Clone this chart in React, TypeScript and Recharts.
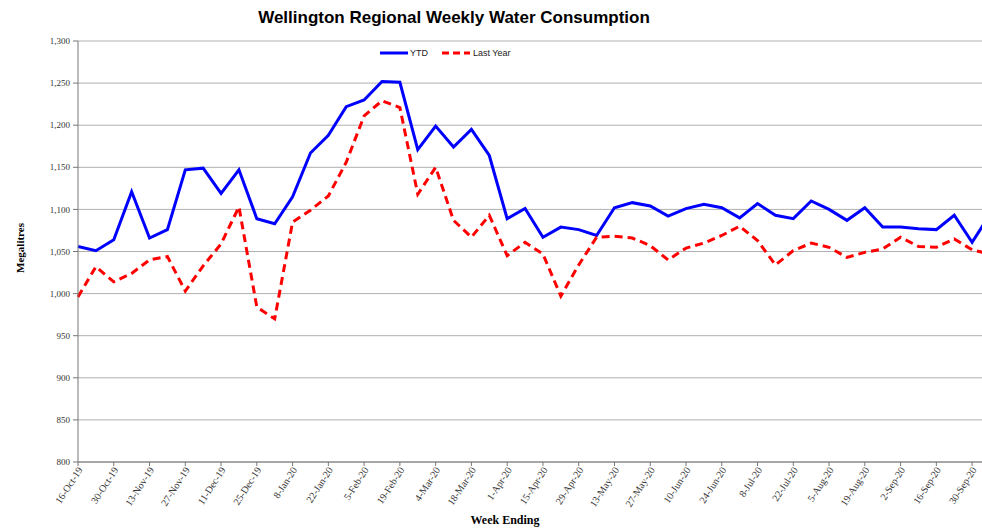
import React from 'react';
import { LineChart, Line, XAxis, YAxis, CartesianGrid, Legend } from 'recharts';

const weeks = [
  '16-Oct-19', '23-Oct-19', '30-Oct-19', '6-Nov-19', '13-Nov-19', '20-Nov-19', '27-Nov-19', '4-Dec-19',
  '11-Dec-19', '18-Dec-19', '25-Dec-19', '1-Jan-20', '8-Jan-20', '15-Jan-20', '22-Jan-20', '29-Jan-20',
  '5-Feb-20', '12-Feb-20', '19-Feb-20', '26-Feb-20', '4-Mar-20', '11-Mar-20', '18-Mar-20', '25-Mar-20',
  '1-Apr-20', '8-Apr-20', '15-Apr-20', '22-Apr-20', '29-Apr-20', '6-May-20', '13-May-20', '20-May-20',
  '27-May-20', '3-Jun-20', '10-Jun-20', '17-Jun-20', '24-Jun-20', '1-Jul-20', '8-Jul-20', '15-Jul-20',
  '22-Jul-20', '29-Jul-20', '5-Aug-20', '12-Aug-20', '19-Aug-20', '26-Aug-20', '2-Sep-20', '9-Sep-20',
  '16-Sep-20', '23-Sep-20', '30-Sep-20', '7-Oct-20',
];

const ytd = [
  1056, 1051, 1064, 1121, 1066, 1076, 1147, 1149, 1119, 1147, 1089, 1083, 1115, 1167, 1188, 1222,
  1230, 1252, 1251, 1171, 1199, 1174, 1195, 1164, 1089, 1101, 1067, 1079, 1076, 1069, 1102, 1108,
  1104, 1092, 1101, 1106, 1102, 1090, 1107, 1093, 1089, 1110, 1100, 1087, 1102, 1079, 1079, 1077,
  1076, 1093, 1061, 1094,
];

const lastYear = [
  996, 1032, 1014, 1024, 1040, 1044, 1003, 1033, 1059, 1103, 984, 970, 1085, 1099, 1116, 1156,
  1211, 1229, 1221, 1118, 1150, 1087, 1067, 1093, 1045, 1061, 1047, 997, 1034, 1067, 1068, 1066,
  1057, 1040, 1054, 1060, 1069, 1080, 1063, 1034, 1051, 1060, 1055, 1043, 1049, 1053, 1067, 1056,
  1055, 1065, 1052, 1047,
];

const yTicks = [800, 850, 900, 950, 1000, 1050, 1100, 1150, 1200, 1250, 1300];

const data = weeks.map((w, i) => ({ week: w, ytd: ytd[i], lastYear: lastYear[i] }));

const SERIF = '"Liberation Serif", "Times New Roman", serif';
const SANS = '"Liberation Sans", Arial, sans-serif';

const XTick = (props: any) => {
  const { x, y, payload } = props;
  return (
    <g transform={`translate(${x + 2},${y})`}>
      <text
        x={0}
        y={0}
        dy="0.35em"
        transform="rotate(-57)"
        textAnchor="end"
        fontSize={10}
        fontFamily={SERIF}
        fill="#333"
      >
        {payload.value}
      </text>
    </g>
  );
};

const LegendContent = () => (
  <svg width={160} height={14} style={{ display: 'block' }}>
    <line x1={2} x2={30} y1={7} y2={7} stroke="#0000ff" strokeWidth={3} />
    <text x={32} y={10} fontSize={9} fontFamily={SANS} fill="#222">YTD</text>
    <line x1={64} x2={92} y1={7} y2={7} stroke="#ff0000" strokeWidth={3} strokeDasharray="7 4" />
    <text x={95} y={10} fontSize={9} fontFamily={SANS} fill="#222">Last Year</text>
  </svg>
);

export default function App() {
  return (
    <div
      style={{
        position: 'absolute',
        left: 0,
        top: 0,
        width: 982,
        height: 528,
        overflow: 'hidden',
        background: '#fff',
      }}
    >
      <LineChart
        width={990}
        height={528}
        data={data}
        margin={{ top: 41, right: 0, bottom: 0, left: 0 }}
      >
        <CartesianGrid vertical={false} stroke="#b0b0b0" strokeWidth={1} />
        <XAxis
          dataKey="week"
          interval={1}
          height={66}
          tickSize={4}
          tickMargin={2}
          tick={<XTick />}
          stroke="#777"
          tickLine={{ stroke: '#777' }}
        />
        <YAxis
          domain={[800, 1300]}
          ticks={yTicks}
          width={78}
          tickSize={5}
          tickMargin={3}
          interval={0}
          stroke="#777"
          tickFormatter={(v: number) => v.toLocaleString('en-US')}
          tick={{ fontSize: 9, fontFamily: SERIF, fill: '#333' }}
          allowDataOverflow
        />
        <Legend
          layout="horizontal"
          verticalAlign="middle"
          align="center"
          content={<LegendContent />}
          wrapperStyle={{ position: 'absolute', top: 46, left: 378, width: 160 }}
        />
        <Line
          type="linear"
          dataKey="ytd"
          name="YTD"
          stroke="#0000ff"
          strokeWidth={3}
          dot={false}
          isAnimationActive={false}
        />
        <Line
          type="linear"
          dataKey="lastYear"
          name="Last Year"
          stroke="#ff0000"
          strokeWidth={3}
          strokeDasharray="8 5"
          dot={false}
          isAnimationActive={false}
        />
      </LineChart>
      <div
        style={{
          position: 'absolute',
          left: 254,
          top: 8,
          width: 400,
          textAlign: 'center',
          fontFamily: SANS,
          fontWeight: 'bold',
          fontSize: 17,
          color: '#000',
          whiteSpace: 'nowrap',
        }}
      >
        Wellington Regional Weekly Water Consumption
      </div>
      <div
        style={{
          position: 'absolute',
          left: 20,
          top: 248,
          transform: 'translate(-50%, -50%) rotate(-90deg)',
          fontFamily: SERIF,
          fontWeight: 'bold',
          fontSize: 11,
          color: '#000',
          whiteSpace: 'nowrap',
        }}
      >
        Megalitres
      </div>
      <div
        style={{
          position: 'absolute',
          left: 505,
          top: 520,
          transform: 'translate(-50%, -50%)',
          fontFamily: SERIF,
          fontWeight: 'bold',
          fontSize: 12,
          color: '#000',
          whiteSpace: 'nowrap',
        }}
      >
        Week Ending
      </div>
    </div>
  );
}
